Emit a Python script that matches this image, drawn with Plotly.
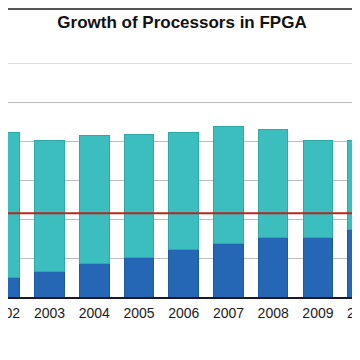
import plotly.graph_objects as go

years = ["2002", "2003", "2004", "2005", "2006", "2007", "2008", "2009", "2010"]
embedded = [5.0, 6.5, 8.6, 10.2, 12.3, 13.8, 15.3, 15.3, 17.4]
other = [37.1, 33.6, 32.9, 31.4, 30.0, 29.9, 27.7, 24.8, 22.7]
target = 21.5
title = "Growth of Processors in FPGA"

# the page body adds an 8px offset, so the figure is 352px and starts at (8, 8)
W = H = 352
x0, x1 = 0.0726, 7.94
ymax = 60

fig = go.Figure()
fig.add_trace(go.Bar(x=years, y=embedded, marker=dict(color="#2567B5", line=dict(color="#1E5AA0", width=1)), name="a"))
fig.add_trace(go.Bar(x=years, y=other, marker=dict(color="#3CBEBE", line=dict(color="#2FA8A8", width=1)), name="b"))

fig.add_shape(type="line", xref="paper", x0=0, x1=1, yref="y", y0=target, y1=target,
              line=dict(color="#B8261E", width=2), layer="above")
# top gridline at range edge
fig.add_shape(type="line", xref="paper", x0=0, x1=1, yref="y", y0=ymax, y1=ymax,
              line=dict(color="#BDBDBD", width=1), layer="below")
# top frame line
fig.add_shape(type="line", xref="paper", x0=0, x1=1, yref="paper", y0=1 + 54/234, y1=1 + 54/234,
              line=dict(color="#555555", width=2))

font = dict(family="Liberation Sans, Arial", size=14, color="#1a1a1a")
# labels for the edge categories whose centres sit beyond the visible range
for idx in (0, len(years) - 1):
    fig.add_annotation(xref="paper", yref="paper", x=(idx - x0) / (x1 - x0), y=0, yshift=-16,
                       text=years[idx], showarrow=False, xanchor="center", yanchor="middle", font=font)

fig.update_layout(
    width=W, height=H,
    margin=dict(l=0, r=0, t=55, b=63, autoexpand=False),
    barmode="stack", bargap=0.34,
    showlegend=False,
    plot_bgcolor="white", paper_bgcolor="white",
    title=dict(text="<b>" + title + "</b>", x=174 / W, xanchor="center", y=1 - 14 / H, yanchor="middle",
               yref="container", font=dict(family="Liberation Sans, Arial", size=17, color="#111"),
               automargin=False),
)
fig.update_xaxes(type="category", range=[x0, x1], showline=True, linecolor="#1a1a2a", linewidth=2,
                 showgrid=False, ticks="", automargin=False, ticklabelstandoff=2, tickfont=font)
fig.update_yaxes(range=[0, ymax], dtick=10, showticklabels=False, showgrid=True, gridcolor="#BDBDBD",
                 gridwidth=1, zeroline=False, automargin=False)

fig.write_html("out.html")
